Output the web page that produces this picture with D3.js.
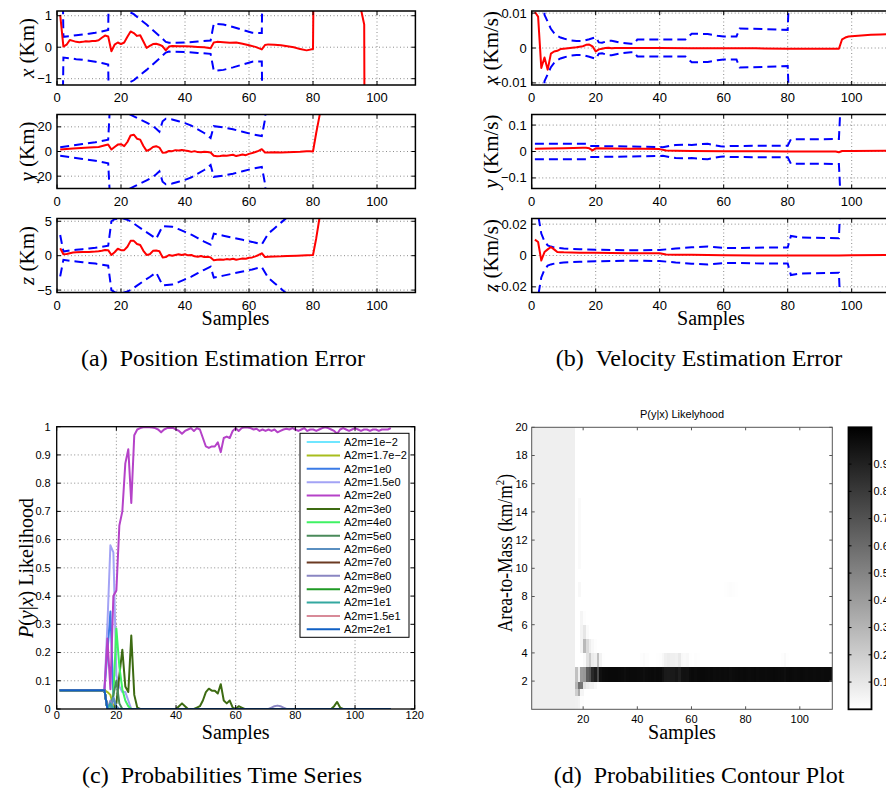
<!DOCTYPE html>
<html>
<head>
<meta charset="utf-8">
<script src="https://cdn.jsdelivr.net/npm/d3@7"></script>
<style>
    body { margin: 0; background: #fff; }
    svg { display: block; }
    .sans { font-family: "Liberation Sans", Arial, Helvetica, sans-serif; fill: #000; }
    .serif { font-family: "Liberation Serif", "Times New Roman", serif; fill: #000; }
</style>
</head>
<body>
<svg id="fig" width="886" height="791"></svg>
<script>
// ---------- data: (a) position error and 3-sigma bound, [sample, Km] ----------
const posErrX = [[1,1.03],[2,0.02],[3,0.08],[4,0.23],[5,0.2],[6,0.17],[7,0.16],[8,0.17],[9,0.19],[10,0.18],[11,0.2],[12,0.2],[13,0.22],[14,0.3],[15,0.37],[16,0.34],[17,-0.13],[18,0.08],[19,0.15],[20,0.1],[21,0.15],[22,0.33],[23,0.5],[24,0.45],[25,0.36],[26,0.38],[27,0.18],[28,-0.02],[29,0.04],[30,0.1],[31,0.11],[32,0.08],[33,0.03],[34,-0.1],[35,0.02],[36,0.04],[38,0.03],[40,0.03],[42,0.02],[44,0.01],[46,0.0],[48,-0.03],[49,0.15],[50,0.17],[52,0.16],[54,0.14],[56,0.15],[58,0.11],[60,0.06],[62,0.01],[64,-0.07],[65,0.07],[66,0.09],[68,0.08],[70,0.06],[72,0.03],[74,0.0],[76,-0.06],[78,-0.1],[80,-0.06],[81,12],[94,2.2],[95,1.2],[96,0.72],[97,-30]];
const posSigX = [[1,8],[2,0.33],[4,0.35],[6,0.38],[8,0.4],[10,0.43],[12,0.46],[14,0.5],[16,0.55],[17,8],[21,6],[22,1.15],[24,1.05],[26,0.88],[28,0.72],[30,0.54],[32,0.36],[34,0.17],[35,0.14],[40,0.15],[44,0.18],[48,0.21],[49,0.75],[52,0.72],[55,0.64],[58,0.55],[61,0.46],[62,0.45],[64,0.45],[65,8]];
const posErrY = [[1,1.6],[5,2.4],[10,3.2],[13,3.7],[15,5],[16,5.6],[17,1.6],[18,3.7],[19,5.6],[20,5.9],[21,4.3],[22,7.7],[23,13],[24,13.6],[25,10.4],[26,9.6],[27,4.5],[28,0.5],[29,1.6],[30,3.7],[31,4.3],[32,3.2],[33,-1],[34,-0.8],[35,0.5],[36,0.3],[37,1.1],[38,0.9],[39,1.3],[40,0.8],[41,0.4],[42,-0.3],[43,0.3],[44,-0.5],[45,-0.6],[46,-0.2],[47,-0.5],[48,-0.8],[49,-3.5],[50,-3.8],[51,-3.6],[52,-3.2],[53,-3.4],[54,-3],[55,-2.6],[56,-3.7],[57,-3.1],[58,-2.4],[59,-3],[60,-1.9],[61,-1.2],[62,-0.4],[63,0.5],[64,1.9],[65,-0.8],[66,-0.9],[68,-0.7],[70,-0.8],[72,-0.6],[74,-0.4],[76,-0.2],[78,0.3],[79,0.2],[80,0],[81,15],[82,28.5],[83,42]];
const posSigY = [[1,3.5],[4,4.5],[8,6],[12,7.5],[16,9.5],[17,60],[21,50],[22,31],[24,28.5],[26,26],[28,23.5],[30,20.5],[31,18.5],[32,16],[33,24.5],[34,26.5],[36,26],[38,24.5],[40,23],[42,21],[44,18],[46,15],[48,11],[49,20.5],[52,19.5],[55,18],[58,16],[61,14],[64,12.5],[65,26],[66,60]];
const posErrZ = [[1,1.08],[2,0.2],[3,0.25],[4,0.35],[5,0.45],[6,0.5],[8,0.52],[10,0.55],[12,0.6],[13,0.65],[14,0.72],[15,0.83],[16,0.8],[17,0.1],[18,0.5],[19,1.0],[20,0.8],[21,0.8],[22,1.3],[23,2.15],[24,2.15],[25,1.7],[26,1.55],[27,0.7],[28,0.1],[29,0.2],[30,0.7],[31,0.75],[32,0.65],[33,-0.25],[34,-0.2],[35,0.1],[36,0],[37,0.1],[38,0.2],[39,0.1],[40,0.2],[41,0.05],[42,0.1],[43,-0.1],[44,-0.15],[45,-0.05],[46,-0.2],[47,-0.15],[48,-0.25],[49,-0.65],[50,-0.6],[51,-0.55],[52,-0.6],[53,-0.5],[54,-0.55],[55,-0.45],[56,-0.6],[57,-0.5],[58,-0.4],[59,-0.45],[60,-0.3],[61,-0.25],[62,-0.1],[63,0.1],[64,0.35],[65,-0.2],[66,-0.15],[68,-0.12],[70,-0.1],[72,-0.05],[75,0],[78,0.05],[80,0.1],[81,2.5],[82,5.4],[83,8]];
const posSigZ = [[1,3.0],[2,0.6],[4,0.75],[6,0.85],[8,0.95],[10,1.05],[12,1.15],[14,1.3],[16,1.45],[17,5.0],[18,5.3],[20,5.5],[22,5.2],[23,5.0],[25,4.35],[27,3.7],[29,3.1],[31,2.45],[33,4.3],[36,4.2],[38,3.85],[40,3.45],[42,3.05],[44,2.55],[46,2.05],[48,1.6],[49,3.2],[52,2.9],[55,2.6],[58,2.3],[61,2.0],[64,1.65],[66,3.2],[68,4.0],[70,4.8],[72,5.6],[74,6.4]];

// ---------- data: (b) velocity error and 3-sigma bound, [sample, Km/s] ----------
const velErrX = [[1,0.0103],[2,0.009],[3,-0.0057],[4,-0.0027],[5,-0.0062],[6,-0.0016],[7,-0.001],[8,-0.0008],[9,-0.0003],[10,-0.0002],[12,0],[14,0.0002],[16,0.0005],[17,0.0009],[18,0.001],[19,0.0005],[20,-0.001],[21,-0.0004],[22,-0.0002],[23,0],[24,0.0001],[25,-0.0001],[26,0],[30,0],[40,0],[50,-0.0001],[60,-0.0001],[70,-0.0001],[80,-0.0002],[90,-0.0002],[96,-0.0002],[97,0.0025],[98,0.003],[99,0.0033],[100,0.0034],[103,0.0036],[106,0.0038],[109,0.0039],[112,0.004]];
const velSigX = [[1,0.05],[3,0.04],[4,0.0095],[5,0.0075],[6,0.0055],[7,0.0043],[8,0.0035],[9,0.003],[10,0.0027],[12,0.0022],[14,0.002],[16,0.002],[18,0.0025],[20,0.0031],[21,0.0016],[22,0.0015],[24,0.0021],[25,0.0021],[28,0.0015],[31,0.0012],[32,0.0012],[33,0.0024],[48,0.0024],[50,0.0041],[55,0.004],[58,0.0035],[60,0.0033],[64,0.0033],[65,0.0056],[80,0.0052],[81,0.03]];
const velErrY = [[1,0.01],[5,0.011],[10,0.012],[16,0.014],[17,0.014],[18,0.012],[19,0.004],[20,0.012],[25,0.011],[30,0.01],[35,0.01],[40,0.009],[42,0.004],[45,0.003],[50,0.002],[60,0.001],[70,0.001],[80,0],[90,0],[95,0],[96,-0.003],[97,0.002],[100,0.002],[112,0.003]];
const velSigY = [[1,0.029],[17,0.029],[18,0.021],[25,0.02],[30,0.019],[35,0.018],[40,0.017],[41,0.016],[43,0.021],[45,0.025],[48,0.026],[50,0.025],[53,0.028],[55,0.029],[57,0.024],[59,0.02],[60,0.019],[62,0.021],[80,0.022],[81,0.046],[96,0.047],[97,0.3]];
const velErrZ = [[1,0.0101],[2,0.0086],[3,-0.0032],[4,0.0022],[5,0.0039],[6,0.0054],[7,0.0039],[8,0.0022],[9,0.0021],[10,0.002],[15,0.0018],[20,0.0017],[30,0.0015],[40,0.0015],[42,0.0007],[45,0.0005],[50,0.0004],[60,0.0002],[70,0],[80,0],[96,0],[100,0.0002],[112,0.0003]];
const velSigZ = [[1,0.06],[2,0.026],[3,0.014],[4,0.009],[5,0.0065],[6,0.0057],[7,0.0052],[8,0.0049],[10,0.0045],[12,0.0042],[15,0.004],[20,0.0037],[25,0.0035],[30,0.0034],[35,0.0034],[40,0.0035],[45,0.0045],[50,0.0052],[55,0.0057],[60,0.0048],[65,0.0047],[70,0.005],[80,0.0051],[81,0.0125],[84,0.0115],[96,0.011],[97,0.06]];

const sampleTicks = [0, 20, 40, 60, 80, 100];

// ---------- data: (c)/(d) model probabilities ----------
const a2mValues = [0.01, 0.017, 1, 1.5, 2, 3, 4, 5, 6, 7, 8, 9, 10, 15, 20];
const a2mLabels = ['A2m=1e\u22122', 'A2m=1.7e\u22122', 'A2m=1e0', 'A2m=1.5e0', 'A2m=2e0', 'A2m=3e0', 'A2m=4e0',
    'A2m=5e0', 'A2m=6e0', 'A2m=7e0', 'A2m=8e0', 'A2m=9e0', 'A2m=1e1', 'A2m=1.5e1', 'A2m=2e1'];
const a2mColors = ['#6fe6ff', '#a8bd1e', '#3b7be6', '#a3a3f5', '#b542c8', '#3d6b12', '#3ff263', '#4a8a5a',
    '#5a8fc0', '#6b3a22', '#8a86c2', '#1f9a24', '#33a8a0', '#d88a98', '#1160c4'];
const nSamples = 112;
const uniformUntil = 16;          // samples 1..16: every model at 1/15
const uniformProb = 0.0667;
// probabilities after sample 16 (missing samples read as 0)
const probSpikes = [
    {},
    {17: 0.06, 18: 0.05, 19: 0.01},
    {17: 0.2, 18: 0.345, 19: 0.04},
    {17: 0.3, 18: 0.58, 19: 0.555, 20: 0.12, 21: 0.08, 22: 0.06, 23: 0.06, 24: 0.03},
    null,
    {20: 0.02, 21: 0.12, 22: 0.21, 23: 0.08, 24: 0.06, 25: 0.26, 26: 0.05, 27: 0.005, 41: 0.01, 42: 0.02, 43: 0.01,
     47: 0.005, 48: 0.01, 49: 0.03, 50: 0.06, 51: 0.072, 52: 0.065, 53: 0.065, 54: 0.055, 55: 0.088, 56: 0.03,
     57: 0.02, 58: 0.03, 59: 0.005, 61: 0.01, 62: 0.005, 93: 0.01, 94: 0.025, 95: 0.005},
    {19: 0.05, 20: 0.285, 21: 0.15, 22: 0.07, 23: 0.03, 24: 0.01},
    {19: 0.05, 20: 0.1, 21: 0.02},
    {19: 0.04, 20: 0.01},
    {},
    {18: 0.03, 72: 0.005, 73: 0.01, 74: 0.012, 75: 0.01, 76: 0.005},
    {},
    {18: 0.02},
    {},
    {}
];
// A2m = 2e0, samples 17..112
const prob2e0 = [0.25, 0.07, 0.40, 0.42, 0.65, 0.70, 0.87, 0.92, 0.73, 0.97, 0.99, 0.995, 0.998, 0.998, 0.998, 0.997,
    0.995, 0.99, 0.98, 0.99, 0.995, 0.995, 0.996, 0.99, 0.985, 0.975, 0.985, 0.99, 0.995, 0.985, 0.995, 0.99,
    0.96, 0.93, 0.925, 0.93, 0.93, 0.945, 0.91, 0.96, 0.965, 0.96, 0.985, 0.995, 0.985, 0.995, 0.998, 0.997,
    0.995, 0.99, 0.993, 0.985, 0.99, 0.985, 0.99, 0.985, 0.99, 0.98, 0.985, 0.99, 0.993, 0.99, 0.995, 0.99,
    0.985, 0.99, 0.995, 0.985, 0.99, 0.99, 0.985, 0.99, 0.995, 0.998, 0.995, 0.99, 0.985, 0.975, 0.99, 0.995,
    0.99, 0.985, 0.99, 0.995, 0.99, 0.985, 0.99, 0.99, 0.985, 0.99, 0.99, 0.985, 0.99, 0.99, 0.99, 0.995];
const probTicks = [0, 0.1, 0.2, 0.3, 0.4, 0.5, 0.6, 0.7, 0.8, 0.9, 1];
const probSampleTicks = [0, 20, 40, 60, 80, 100, 120];
const contourXTicks = [20, 40, 60, 80, 100];
const contourYTicks = [2, 4, 6, 8, 10, 12, 14, 16, 18, 20];
const colorbarTicks = [0.1, 0.2, 0.3, 0.4, 0.5, 0.6, 0.7, 0.8, 0.9];

function probAt(k, t) {
    if (t <= uniformUntil) return uniformProb;
    if (k === 4) return prob2e0[t - uniformUntil - 1] || 0;
    return probSpikes[k][t] || 0;
}

// ---------- drawing ----------
const svg = d3.select('#fig');
svg.append('rect').attr('width', 886).attr('height', 791).attr('fill', '#fff');
const defs = svg.append('defs');
let clipCount = 0;

const fmtTick = d => (d < 0 ? '\u2212' : '') + Math.abs(d);

function axesBox(o) {
    const x = d3.scaleLinear().domain(o.xDomain).range([o.left, o.right]);
    const y = d3.scaleLinear().domain(o.yDomain).range([o.bottom, o.top]);
    const root = svg.append('g');
    const id = 'clip' + (clipCount++);
    defs.append('clipPath').attr('id', id).append('rect')
        .attr('x', o.left).attr('y', o.top)
        .attr('width', o.right - o.left).attr('height', o.bottom - o.top);

    if (o.grid) {
        const grid = root.append('g')
            .attr('stroke', '#6e6e6e').attr('stroke-width', 0.8).attr('stroke-dasharray', '1,2.5');
        grid.selectAll(null).data(o.xTicks.filter(t => x(t) > o.left + 1 && x(t) < o.right - 1)).join('line')
            .attr('x1', d => x(d)).attr('x2', d => x(d)).attr('y1', o.top).attr('y2', o.bottom);
        grid.selectAll(null).data(o.yTicks.filter(t => y(t) > o.top + 1 && y(t) < o.bottom - 1)).join('line')
            .attr('y1', d => y(d)).attr('y2', d => y(d)).attr('x1', o.left).attr('x2', o.right);
    }

    const plot = root.append('g').attr('clip-path', `url(#${id})`);
    const frame = root.append('g');
    const tl = o.tickLen;
    const tk = frame.append('g').attr('stroke', o.frameColor).attr('stroke-width', 1);
    o.xTicks.forEach(t => {
        tk.append('line').attr('x1', x(t)).attr('x2', x(t)).attr('y1', o.bottom).attr('y2', o.bottom - tl);
        tk.append('line').attr('x1', x(t)).attr('x2', x(t)).attr('y1', o.top).attr('y2', o.top + tl);
    });
    o.yTicks.forEach(t => {
        tk.append('line').attr('y1', y(t)).attr('y2', y(t)).attr('x1', o.left).attr('x2', o.left + tl);
        tk.append('line').attr('y1', y(t)).attr('y2', y(t)).attr('x1', o.right).attr('x2', o.right - tl);
    });
    frame.append('rect')
        .attr('x', o.left).attr('y', o.top)
        .attr('width', o.right - o.left).attr('height', o.bottom - o.top)
        .attr('fill', 'none').attr('stroke', o.frameColor).attr('stroke-width', o.frameWidth);

    frame.selectAll(null).data(o.xTicks).join('text')
        .attr('class', 'sans').attr('font-size', o.fontSize)
        .attr('x', d => x(d)).attr('y', o.bottom + o.xLabelGap).attr('dy', '0.35em')
        .attr('text-anchor', 'middle').text(o.xFormat || fmtTick);
    frame.selectAll(null).data(o.yTicks).join('text')
        .attr('class', 'sans').attr('font-size', o.fontSize)
        .attr('x', o.left - o.yLabelGap).attr('y', d => y(d)).attr('dy', '0.35em')
        .attr('text-anchor', 'end').text(o.yFormat || fmtTick);
    return { x, y, plot, frame };
}

function yTitle(x, y, parts, size, fitLength) {
    const t = svg.append('text').attr('class', 'serif').attr('font-size', size)
        .attr('text-anchor', 'middle').attr('dy', '0.3em')
        .attr('transform', `translate(${x},${y}) rotate(-90)`);
    if (fitLength) t.attr('textLength', fitLength).attr('lengthAdjust', 'spacingAndGlyphs');
    parts.forEach(p => {
        const s = t.append('tspan').text(p.t);
        if (p.i) s.attr('font-style', 'italic');
        if (p.sup) s.attr('font-size', size * 0.62).attr('dy', -size * 0.4);
        if (p.down) s.attr('dy', size * 0.4);
    });
}

function textAt(x, y, str, size, cls) {
    svg.append('text').attr('class', cls).attr('font-size', size)
        .attr('x', x).attr('y', y).attr('text-anchor', 'middle').text(str);
}

// ---- (a) and (b): error with dashed 3-sigma bounds ----
const rowTops = [11, 114.5, 218.5];
const rowH = 74;
const stateRows = [
    { err: posErrX, sig: posSigX, dom: [-1.2, 1.15], ticks: [-1, 0, 1], v: 'x', unit: ' (Km)', left: 57, lx: 28 },
    { err: posErrY, sig: posSigY, dom: [-30, 30], ticks: [-20, 0, 20], v: 'y', unit: ' (Km)', left: 57, lx: 28 },
    { err: posErrZ, sig: posSigZ, dom: [-5.35, 5.4], ticks: [-5, 0, 5], v: 'z', unit: ' (Km)', left: 57, lx: 28 },
    { err: velErrX, sig: velSigX, dom: [-0.0106, 0.0106], ticks: [-0.01, 0, 0.01], v: 'x', unit: ' (Km/s)', left: 531.7, lx: 492 },
    { err: velErrY, sig: velSigY, dom: [-0.14, 0.14], ticks: [-0.1, 0, 0.1], v: 'y', unit: ' (Km/s)', left: 531.7, lx: 492 },
    { err: velErrZ, sig: velSigZ, dom: [-0.0236, 0.0236], ticks: [-0.02, 0, 0.02], v: 'z', unit: ' (Km/s)', left: 531.7, lx: 492 }
];

stateRows.forEach((r, i) => {
    const top = rowTops[i % 3];
    const ax = axesBox({
        left: r.left, right: r.left + 358.4, top, bottom: top + rowH,
        xDomain: [0, 112], yDomain: r.dom, xTicks: sampleTicks, yTicks: r.ticks,
        grid: true, tickLen: 4, frameColor: '#000', frameWidth: 1.5,
        fontSize: 13, xLabelGap: 12.5, yLabelGap: 5
    });
    const line = d3.line().x(d => ax.x(d[0])).y(d => ax.y(d[1]));
    [1, -1].forEach(sgn => {
        ax.plot.append('path')
            .attr('d', line(r.sig.map(d => [d[0], sgn * d[1]])))
            .attr('fill', 'none').attr('stroke', '#0000ff').attr('stroke-width', 2)
            .attr('stroke-dasharray', '9,5');
    });
    ax.plot.append('path').attr('d', line(r.err))
        .attr('fill', 'none').attr('stroke', '#ff0000').attr('stroke-width', 2).attr('stroke-linejoin', 'round');
    yTitle(r.lx, top + rowH / 2, [{ t: r.v, i: true }, { t: r.unit }], 21);
});
textAt(235.5, 325, 'Samples', 20, 'serif');
textAt(711, 325, 'Samples', 20, 'serif');

// ---- (c) probabilities time series ----
const pc = axesBox({
    left: 56.7, right: 414.7, top: 426.7, bottom: 709,
    xDomain: [0, 120], yDomain: [0, 1], xTicks: probSampleTicks, yTicks: probTicks,
    grid: true, tickLen: 4, frameColor: '#000', frameWidth: 1.3,
    fontSize: 11, xLabelGap: 6, yLabelGap: 6
});
const probLine = d3.line().x(d => pc.x(d.t)).y(d => pc.y(d.p));
const samples = d3.range(1, nSamples + 1);
a2mValues.forEach((v, k) => {
    pc.plot.append('path')
        .attr('d', probLine(samples.map(t => ({ t, p: probAt(k, t) }))))
        .attr('fill', 'none').attr('stroke', a2mColors[k]).attr('stroke-width', 2)
        .attr('stroke-linejoin', 'round');
});
const legend = svg.append('g');
legend.append('rect').attr('x', 300).attr('y', 433.3).attr('width', 109).attr('height', 204)
    .attr('fill', '#fff').attr('stroke', '#000').attr('stroke-width', 1);
a2mLabels.forEach((lab, k) => {
    const ly = 442 + k * 13.38;
    legend.append('line').attr('x1', 306.7).attr('x2', 340).attr('y1', ly).attr('y2', ly)
        .attr('stroke', a2mColors[k]).attr('stroke-width', 2);
    legend.append('text').attr('class', 'sans').attr('font-size', 11)
        .attr('x', 344).attr('y', ly).attr('dy', '0.35em').text(lab);
});
yTitle(27, 568, [{ t: 'P', i: true }, { t: '(' }, { t: 'y', i: true }, { t: '|' }, { t: 'x', i: true },
    { t: ') Likelihood' }], 20);
textAt(235.7, 739, 'Samples', 20, 'serif');

// ---- (d) probabilities contour (pcolor) ----
const pd = axesBox({
    left: 531.7, right: 832.3, top: 427.3, bottom: 709.3,
    xDomain: [1, 112], yDomain: [0, 20], xTicks: contourXTicks, yTicks: contourYTicks,
    grid: false, tickLen: 3, frameColor: '#555', frameWidth: 1,
    fontSize: 11, xLabelGap: 10, yLabelGap: 4
});
const shade = d3.scaleLinear().domain([0, 1.035]).range(['#ffffff', '#000000']).clamp(true);
const cells = [];
for (let k = 0; k < a2mValues.length - 1; k++) {
    for (let t = 1; t < nSamples; t++) cells.push({ k, t, p: probAt(k, t) });
}
pd.plot.insert('g', ':first-child').selectAll(null).data(cells.filter(c => c.p > 0)).join('rect')
    .attr('shape-rendering', 'crispEdges')
    .attr('x', d => pd.x(d.t)).attr('width', d => pd.x(d.t + 1) - pd.x(d.t) + 0.4)
    .attr('y', d => pd.y(a2mValues[d.k + 1]))
    .attr('height', d => pd.y(a2mValues[d.k]) - pd.y(a2mValues[d.k + 1]) + 0.4)
    .attr('fill', d => shade(d.p));
textAt(682, 418, 'P(y|x) Likelyhood', 11, 'sans');
yTitle(506, 553, [{ t: 'Area-to-Mass (km/m' }, { t: '2', sup: true }, { t: ')', down: true }], 20, 158);
textAt(682, 739, 'Samples', 20, 'serif');

// colorbar
const cb = { left: 848.5, right: 871.5, top: 427.3, bottom: 709.3 };
const cy = d3.scaleLinear().domain(shade.domain()).range([cb.bottom, cb.top]);
const grad = defs.append('linearGradient').attr('id', 'cbgrad')
    .attr('x1', 0).attr('x2', 0).attr('y1', 1).attr('y2', 0);
grad.append('stop').attr('offset', 0).attr('stop-color', shade(0));
grad.append('stop').attr('offset', 1).attr('stop-color', shade(1.035));
svg.append('rect').attr('x', cb.left).attr('y', cb.top)
    .attr('width', cb.right - cb.left).attr('height', cb.bottom - cb.top)
    .attr('fill', 'url(#cbgrad)').attr('stroke', '#000').attr('stroke-width', 1.8);
colorbarTicks.forEach(t => {
    svg.append('line').attr('x1', cb.left).attr('x2', cb.left + 3).attr('y1', cy(t)).attr('y2', cy(t))
        .attr('stroke', '#000');
    svg.append('line').attr('x1', cb.right).attr('x2', cb.right - 3).attr('y1', cy(t)).attr('y2', cy(t))
        .attr('stroke', '#000');
    svg.append('text').attr('class', 'sans').attr('font-size', 11)
        .attr('x', 873.5).attr('y', cy(t)).attr('dy', '0.35em').text(t);
});

// ---- captions ----
textAt(223, 366, '(a)\u2002Position Estimation Error', 24, 'serif');
textAt(699, 366, '(b)\u2002Velocity Estimation Error', 24, 'serif');
textAt(222, 783, '(c)\u2002Probabilities Time Series', 24, 'serif');
textAt(699, 783, '(d)\u2002Probabilities Contour Plot', 24, 'serif');
</script>
</body>
</html>
